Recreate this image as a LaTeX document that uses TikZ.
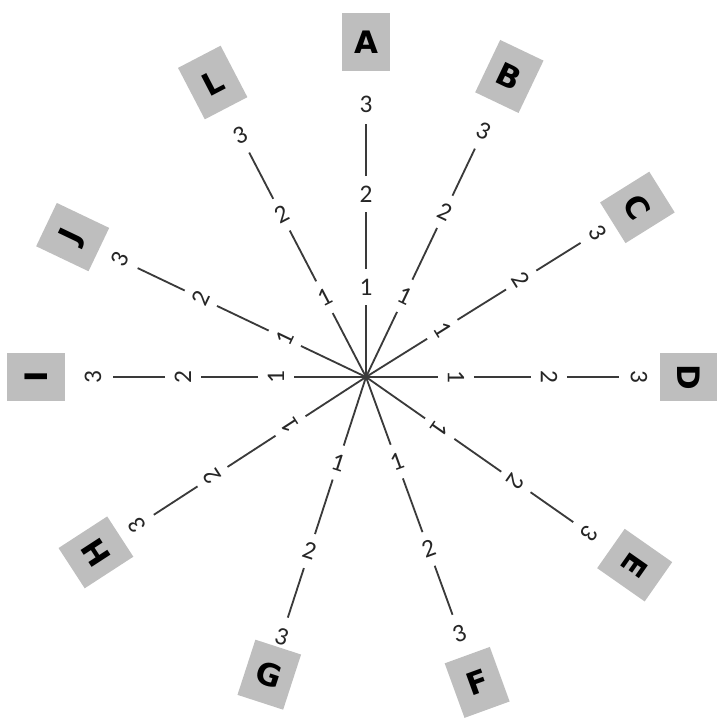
\documentclass[tikz,border=0pt]{standalone}
\usepackage{fontspec}
\setmainfont{Carlito}
\newfontfamily\tagfont{DejaVu Sans}
\usepackage{xcolor}
\usepackage{tikz}
\definecolor{boxgray}{HTML}{BEBEBE}
\definecolor{spokegray}{HTML}{3A3A3A}
\tikzset{
  spokeline/.style={draw=spokegray,line width=1.3pt},
  ticknum/.style={inner sep=0pt,minimum width=0.5cm,minimum height=0.88cm,font=\fontsize{18}{20}\selectfont,text=black!85},
  tagbox/.style={fill=boxgray,inner sep=0pt,minimum width=1.2cm,minimum height=1.45cm,font=\tagfont\bfseries\fontsize{22}{24}\selectfont},
}
\begin{document}
\begin{tikzpicture}[x=0.025cm,y=0.025cm]
    \useasboundingbox (-366,-344) rectangle (350,377);
    \coordinate (o) at (0,0);
    % angle / letter / text turn / distance of the box
    \foreach \ang/\tag/\rot/\dist in {90/A/-90/335,64.5/B/-90/333,32/C/-90/320,0/D/-90/323,-35/E/-90/328,-70/F/90/325,-108/G/90/313,-147/H/-90/322,180/I/-90/330,154.5/J/-90/325,117.5/L/-90/332}{
      \node[ticknum,rotate=\ang+\rot] (t1\tag) at (\ang:90) {1};
      \node[ticknum,rotate=\ang+\rot] (t2\tag) at (\ang:183) {2};
      \node[ticknum,rotate=\ang+\rot] (t3\tag) at (\ang:273) {3};
      \node[tagbox,rotate=\ang+\rot] (box\tag) at (\ang:\dist) {\tag};
      \coordinate (end\tag) at (\ang:253);
      \draw[spokeline] (o)--(t1\tag)--(t2\tag)--(end\tag);
    }
  \end{tikzpicture}
\end{document}
